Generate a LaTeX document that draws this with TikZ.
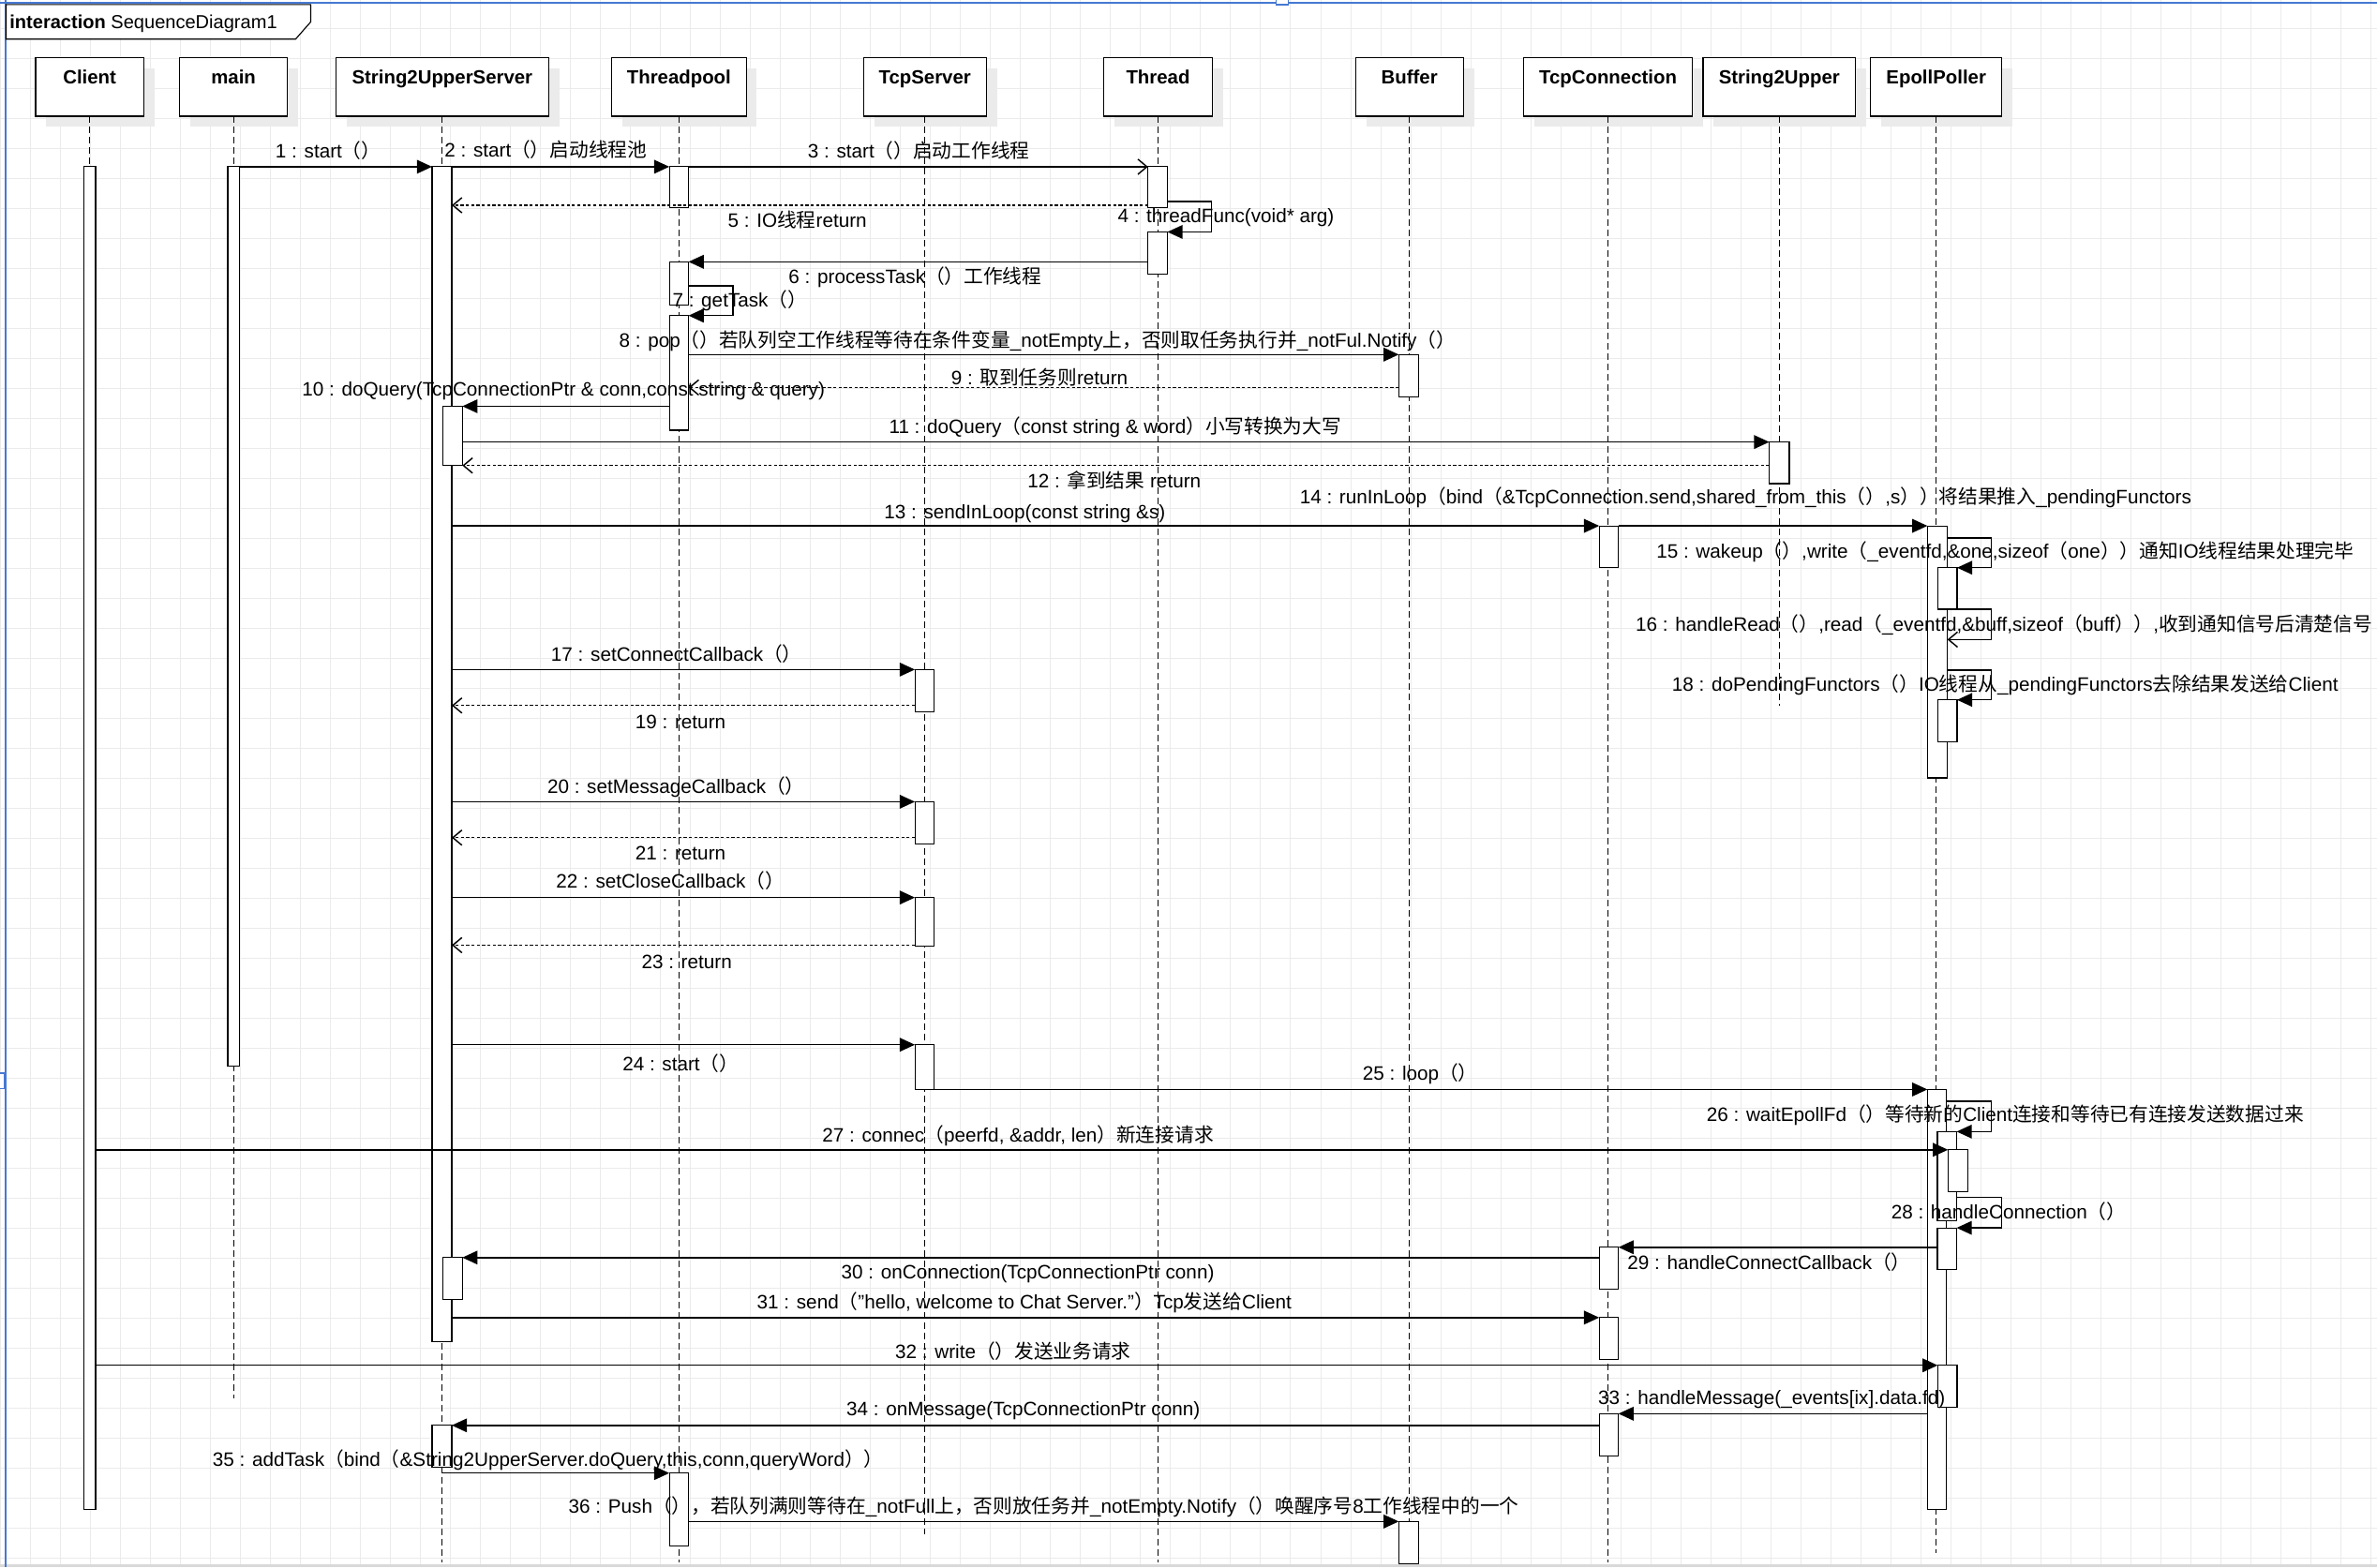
\documentclass[tikz,border=0pt]{standalone}
\usepackage{fontspec}
\setmainfont{Liberation Sans}
\newfontfamily\cjkfont{Noto Sans CJK SC}
\usetikzlibrary{arrows.meta,shadows}
\newcommand\zh[1]{{\cjkfont #1}}
\newcommand\actb[5]{\node[act, minimum width=#3, minimum height={#5-#4}] (#1) at (#2,{(#4+#5)/2}) {};}
\newcommand\hdrbx[4]{\node[hdrbox, minimum width=#3, minimum height=38.6] (#1) at (#2,57.4) {};
  \node[hdrtxt] (#1-t) at (#2,55.2) {#4};}
\begin{document}
\begin{tikzpicture}[x=1pt,y=-1pt,
  gridline/.style={draw=black!8, line width=0.6pt},
  blueframe/.style={draw={rgb,255:red,70;green,120;blue,210}, line width=1.2pt},
  hdrbox/.style={draw=black, line width=0.7pt, fill=white, inner sep=0pt, outer sep=0pt,
    drop shadow={shadow xshift=7pt, shadow yshift=-7pt, fill=black!8, opacity=1}},
  hdrtxt/.style={font=\fontsize{12.6}{15}\selectfont\bfseries, anchor=base, inner sep=0pt},
  life/.style={draw=black, line width=0.6pt, dash pattern=on 4.5pt off 2.3pt},
  act/.style={draw=black, line width=0.7pt, fill=white, inner sep=0pt, outer sep=0pt},
  call/.style={draw=black, line width=0.9pt, -{Triangle[length=10pt,width=9pt]}},
  async/.style={draw=black, line width=0.9pt, -{Straight Barb[length=6pt,width=10pt]}},
  ret/.style={draw=black, line width=0.9pt, dash pattern=on 2pt off 1.5pt, -{Straight Barb[length=6pt,width=10pt]}},
  lbl/.style={font=\fontsize{12.8}{15}\selectfont, anchor=base, inner sep=0pt}]
\useasboundingbox (0,0) rectangle (1568,1034);
\fill[white] (0,0) rectangle (1568,1034);
% grid
\foreach \k in {0,...,79} \draw[gridline] ({0.4+19.79*\k},0) -- ({0.4+19.79*\k},1034);
\foreach \k in {0,...,51} \draw[gridline] (0,{18.7+19.79*\k}) -- (1568,{18.7+19.79*\k});
\fill[black!15] (0,1032) rectangle (1568,1034);
% frame
\draw[blueframe] (0,2) -- (1568,2);
\draw[blueframe] (4,0) -- (4,1034);
\draw[blueframe, line width=0.8pt, fill=white] (842,-4) rectangle (850,3);
\draw[blueframe, line width=0.8pt, fill=white] (-4,708) rectangle (3,718);
\draw[black, line width=0.7pt, fill=white] (4,3) -- (205,3) -- (205,14.4) -- (195,25.8) -- (4,25.8) -- cycle;
\node[anchor=base west, inner sep=0pt, font=\fontsize{12.4}{15}\selectfont] (tag) at (6.2,19) {\textbf{interaction} SequenceDiagram1};
% headers
\hdrbx{Client}{59.15}{71.3}{Client}
\hdrbx{main}{154.05}{71.3}{main}
\hdrbx{S2US}{291.75}{140.5}{String2UpperServer}
\hdrbx{Pool}{447.85}{88.7}{Threadpool}
\hdrbx{TcpServer}{610.1}{81}{TcpServer}
\hdrbx{Thread}{763.9}{71.8}{Thread}
\hdrbx{Buffer}{929.75}{71.1}{Buffer}
\hdrbx{TcpConn}{1060.7}{111.6}{TcpConnection}
\hdrbx{S2U}{1173.7}{100.6}{String2Upper}
\hdrbx{Epoll}{1277.2}{86.4}{EpollPoller}
% lifelines
\draw[life] (Client.south) -- (Client.south |- 0,110);
\draw[life] (main.south) -- (main.south |- 0,922.3);
\draw[life] (S2US.south) -- (S2US.south |- 0,1030.5);
\draw[life] (Pool.south) -- (Pool.south |- 0,1030.5);
\draw[life] (TcpServer.south) -- (TcpServer.south |- 0,1012);
\draw[life] (Thread.south) -- (Thread.south |- 0,1030.5);
\draw[life] (Buffer.south) -- (Buffer.south |- 0,1030.5);
\draw[life] (TcpConn.south) -- (TcpConn.south |- 0,1030.5);
\draw[life] (S2U.south) -- (S2U.south |- 0,465.8);
\draw[life] (Epoll.south) -- (Epoll.south |- 0,1024.4);
% activation bars
\actb{cl1}{59.25}{7.7}{109.5}{995.5}
\actb{mn1}{154.1}{7.7}{109.5}{703.2}
\actb{s1}{291.5}{13}{109.5}{885.3}
\actb{s2}{298.6}{12.8}{268}{307}
\actb{s3}{298.6}{12.8}{829.6}{857.4}
\actb{s4}{291.5}{13}{940.3}{968.1}
\actb{tp1}{447.85}{12.7}{109.5}{137.1}
\actb{tp2}{447.85}{12.7}{172.7}{201}
\actb{tp3}{447.85}{12.7}{208.2}{283.8}
\actb{tp4}{447.85}{12.7}{971.8}{1019.6}
\actb{th1}{763.7}{12.8}{109.5}{137}
\actb{th2}{763.7}{12.8}{153}{180.8}
\actb{bf1}{929.25}{13.1}{233.9}{261.7}
\actb{bf2}{929.25}{13.1}{1003.7}{1031.5}
\actb{su1}{1173.7}{13.2}{291.6}{319}
\actb{tc1}{1061.25}{12.7}{346.9}{374.5}
\actb{tc2}{1061.25}{12.7}{822.8}{850.6}
\actb{tc3}{1061.25}{12.7}{869.2}{897}
\actb{tc4}{1061.25}{12.7}{932.6}{960.4}
\actb{ts1}{609.9}{12.8}{441.7}{469.5}
\actb{ts2}{609.9}{12.8}{528.9}{556.5}
\actb{ts3}{609.9}{12.8}{592.1}{623.9}
\actb{ts4}{609.9}{12.8}{689.2}{718.7}
\actb{ep1}{1278}{13.2}{346.9}{513.2}
\actb{ep1a}{1284.65}{12.7}{374.5}{401.9}
\actb{ep1b}{1284.65}{12.7}{461.7}{489.5}
\actb{ep2}{1277.75}{12.7}{718.7}{995.5}
\actb{ep2a}{1284.35}{12.7}{746.5}{805.5}
\actb{ep2b}{1291.5}{13}{758.5}{786.3}
\actb{ep2c}{1284.35}{12.7}{810}{837.2}
\actb{ep2d}{1284.6}{12.8}{900.7}{928.5}
% messages
\draw[call] (mn1.east |- 0,110) -- (s1.west |- 0,110);
\draw[call] (s1.east |- 0,110) -- (tp1.west |- 0,110);
\draw[async] (tp1.east |- 0,110) -- (th1.west |- 0,110);
\draw[call] (th1.east |- 0,133) -- ++(29,0) |- (th2.east |- 0,153);
\draw[ret] (th1.west |- 0,135.4) -- (s1.east |- 0,135.4);
\draw[call] (th2.west |- 0,172.7) -- (tp2.east |- 0,172.7);
\draw[call] (tp2.east |- 0,188.6) -- ++(29.3,0) |- (tp3.east |- 0,208.2);
\draw[call] (tp3.east |- 0,233.9) -- (bf1.west |- 0,233.9);
\draw[ret] (bf1.west |- 0,255.6) -- (tp3.east |- 0,255.6);
\draw[call] (tp3.west |- 0,268) -- (s2.east |- 0,268);
\draw[call] (s2.east |- 0,291.6) -- (su1.west |- 0,291.6);
\draw[ret] (su1.west |- 0,307.1) -- (s2.east |- 0,307.1);
\draw[call] (s1.east |- 0,346.9) -- (tc1.west |- 0,346.9);
\draw[call] (tc1.east |- 0,346.9) -- (ep1.west |- 0,346.9);
\draw[call] (ep1.east |- 0,355) -- ++(29,0) |- (ep1a.east |- 0,374.5);
\draw[async] (ep1a.east |- 0,401.9) -- ++(22.6,0) |- (ep1.east |- 0,421.9);
\draw[call] (s1.east |- 0,441.7) -- (ts1.west |- 0,441.7);
\draw[call] (ep1.east |- 0,442.1) -- ++(29,0) |- (ep1b.east |- 0,461.7);
\draw[ret] (ts1.west |- 0,465.4) -- (s1.east |- 0,465.4);
\draw[call] (s1.east |- 0,528.9) -- (ts2.west |- 0,528.9);
\draw[ret] (ts2.west |- 0,552.6) -- (s1.east |- 0,552.6);
\draw[call] (s1.east |- 0,592.1) -- (ts3.west |- 0,592.1);
\draw[ret] (ts3.west |- 0,623.5) -- (s1.east |- 0,623.5);
\draw[call] (s1.east |- 0,689.2) -- (ts4.west |- 0,689.2);
\draw[call] (ts4.east |- 0,718.7) -- (ep2.west |- 0,718.7);
\draw[call] (ep2.east |- 0,726.5) -- ++(29.5,0) |- (ep2a.east |- 0,746.5);
\draw[call] (cl1.east |- 0,758.5) -- (ep2b.west |- 0,758.5);
\draw[call] (ep2a.east |- 0,790) -- ++(29.8,0) |- (ep2c.east |- 0,810);
\draw[call] (ep2c.west |- 0,822.8) -- (tc2.east |- 0,822.8);
\draw[call] (tc2.west |- 0,829.6) -- (s3.east |- 0,829.6);
\draw[call] (s1.east |- 0,869.2) -- (tc3.west |- 0,869.2);
\draw[call] (cl1.east |- 0,900.7) -- (ep2d.west |- 0,900.7);
\draw[call] (ep2.west |- 0,932.6) -- (tc4.east |- 0,932.6);
\draw[call] (tc4.west |- 0,940.3) -- (s4.east |- 0,940.3);
\draw[call] (S2US.south |- 0,971.8) -- (tp4.west |- 0,971.8);
\draw[call] (tp4.east |- 0,1003.7) -- (bf2.west |- 0,1003.7);
% labels
\node[lbl] (l1) at (216.5,104.4) {1 : start\zh{（）}};
\node[lbl] (l2) at (360,103.6) {2 : start\zh{（）启动线程池}};
\node[lbl] (l3) at (606,104.4) {3 : start\zh{（）启动工作线程}};
\node[lbl] (l4) at (808.7,146.8) {4 : threadFunc(void* arg)};
\node[lbl] (l5) at (526,149.9) {5 : IO\zh{线程}return};
\node[lbl] (l6) at (603.7,187) {6 : processTask\zh{（）工作线程}};
\node[lbl] (l7) at (488,202.5) {7 : getTask\zh{（）}};
\node[lbl] (l8) at (684.3,228.8) {8 : pop\zh{（）若队列空工作线程等待在条件变量}\_notEmpty\zh{上，否则取任务执行并}\_notFul.Notify\zh{（）}};
\node[lbl] (l9) at (685.7,254) {9 : \zh{取到任务则}return};
\node[lbl] (l10) at (371.7,261.2) {10 : doQuery(TcpConnectionPtr \& conn,const string \& query)};
\node[lbl] (l11) at (735.6,285.9) {11 : doQuery\zh{（}const string \& word\zh{）小写转换为大写}};
\node[lbl] (l12) at (735,322) {12 : \zh{拿到结果} return};
\node[lbl] (l13) at (676,342) {13 : sendInLoop(const string \&s)};
\node[lbl] (l14) at (1151.5,332.3) {14 : runInLoop\zh{（}bind\zh{（}\&TcpConnection.send,shared\_from\_this\zh{（）},s\zh{））将结果推入}\_pendingFunctors};
\node[lbl] (l15) at (1322.7,368.4) {15 : wakeup\zh{（）},write\zh{（}\_eventfd,\&one,sizeof\zh{（}one\zh{））通知}IO\zh{线程结果处理完毕}};
\node[lbl] (l16) at (1321.9,416.4) {16 : handleRead\zh{（）},read\zh{（}\_eventfd,\&buff,sizeof\zh{（}buff\zh{））},\zh{收到通知信号后清楚信号}};
\node[lbl] (l17) at (446.3,436.4) {17 : setConnectCallback\zh{（）}};
\node[lbl] (l18) at (1322.7,456) {18 : doPendingFunctors\zh{（）}IO\zh{线程从}\_pendingFunctors\zh{去除结果发送给}Client};
\node[lbl] (l19) at (448.9,480.7) {19 : return};
\node[lbl] (l20) at (446,523.6) {20 : setMessageCallback\zh{（）}};
\node[lbl] (l21) at (448.9,567.3) {21 : return};
\node[lbl] (l22) at (442.2,585.8) {22 : setCloseCallback\zh{（）}};
\node[lbl] (l23) at (453,639) {23 : return};
\node[lbl] (l24) at (449,706.4) {24 : start\zh{（）}};
\node[lbl] (l25) at (936.9,712.6) {25 : loop\zh{（）}};
\node[lbl] (l26) at (1322.7,740) {26 : waitEpollFd\zh{（）等待新的}Client\zh{连接和等待已有连接发送数据过来}};
\node[lbl] (l27) at (671.5,753.2) {27 : connec\zh{（}peerfd, \&addr, len\zh{）新连接请求}};
\node[lbl] (l28) at (1325,803.9) {28 : handleConnection\zh{（）}};
\node[lbl] (l29) at (1167,837.3) {29 : handleConnectCallback\zh{（）}};
\node[lbl] (l30) at (678,843.8) {30 : onConnection(TcpConnectionPtr conn)};
\node[lbl] (l31) at (675.7,863.6) {31 : send\zh{（}"hello, welcome to Chat Server."\zh{）}Tcp\zh{发送给}Client};
\node[lbl] (l32) at (668.3,896) {32 : write\zh{（）发送业务请求}};
\node[lbl] (l33) at (1168.7,926.3) {33 : handleMessage(\_events[ix].data.fd)};
\node[lbl] (l34) at (675,934.1) {34 : onMessage(TcpConnectionPtr conn)};
\node[lbl] (l35) at (361.5,967.5) {35 : addTask\zh{（}bind\zh{（}\&String2UpperServer.doQuery,this,conn,queryWord\zh{））}};
\node[lbl] (l36) at (688.5,998.4) {36 : Push\zh{（），若队列满则等待在}\_notFull\zh{上，否则放任务并}\_notEmpty.Notify\zh{（）唤醒序号}8\zh{工作线程中的一个}};
\end{tikzpicture}
\end{document}
